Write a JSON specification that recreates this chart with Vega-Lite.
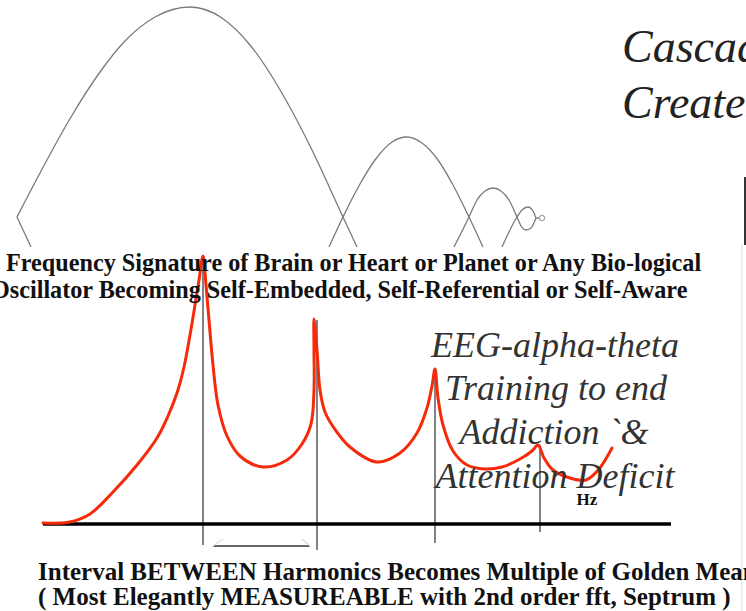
{
  "$schema": "https://vega.github.io/schema/vega-lite/v6.json",
  "width": 746,
  "height": 611,
  "autosize": {"type": "none"},
  "padding": 0,
  "background": "white",
  "config": {"view": {"stroke": null}, "text": {"baseline": "alphabetic"}},
  "encoding": {
    "x": {"field": "x", "type": "quantitative", "scale": {"domain": [0, 746], "nice": false, "zero": false}, "axis": null},
    "y": {"field": "y", "type": "quantitative", "scale": {"domain": [0, 611], "nice": false, "zero": false, "reverse": true}, "axis": null}
  },
  "layer": [
    {
      "data": {"values": [
        {"seg": "a1", "x": 17, "y": 217}, {"seg": "a1", "x": 40, "y": 173}, {"seg": "a1", "x": 71, "y": 117}, {"seg": "a1", "x": 100, "y": 72}, {"seg": "a1", "x": 124, "y": 42}, {"seg": "a1", "x": 155, "y": 17}, {"seg": "a1", "x": 190, "y": 7}, {"seg": "a1", "x": 222, "y": 18}, {"seg": "a1", "x": 250, "y": 45}, {"seg": "a1", "x": 287, "y": 102}, {"seg": "a1", "x": 311, "y": 148}, {"seg": "a1", "x": 343, "y": 217}, {"seg": "a1", "x": 357, "y": 247},
        {"seg": "a2", "x": 329, "y": 247}, {"seg": "a2", "x": 343, "y": 217}, {"seg": "a2", "x": 360, "y": 184}, {"seg": "a2", "x": 375, "y": 160}, {"seg": "a2", "x": 392, "y": 142}, {"seg": "a2", "x": 407, "y": 137}, {"seg": "a2", "x": 422, "y": 143}, {"seg": "a2", "x": 438, "y": 160}, {"seg": "a2", "x": 453, "y": 185}, {"seg": "a2", "x": 469, "y": 217}, {"seg": "a2", "x": 483, "y": 247},
        {"seg": "a3", "x": 454, "y": 247}, {"seg": "a3", "x": 469, "y": 217}, {"seg": "a3", "x": 477, "y": 200}, {"seg": "a3", "x": 485, "y": 191}, {"seg": "a3", "x": 493, "y": 188}, {"seg": "a3", "x": 501, "y": 191}, {"seg": "a3", "x": 509, "y": 200}, {"seg": "a3", "x": 517, "y": 217}, {"seg": "a3", "x": 521, "y": 226}, {"seg": "a3", "x": 526, "y": 230}, {"seg": "a3", "x": 531, "y": 228}, {"seg": "a3", "x": 536, "y": 218},
        {"seg": "a4", "x": 502, "y": 247}, {"seg": "a4", "x": 517, "y": 217}, {"seg": "a4", "x": 522, "y": 210}, {"seg": "a4", "x": 528, "y": 207}, {"seg": "a4", "x": 533, "y": 211}, {"seg": "a4", "x": 536, "y": 218}
      ]},
      "mark": {"type": "line", "interpolate": "monotone", "color": "#7a7a7a", "strokeWidth": 1.3},
      "encoding": {"detail": {"field": "seg"}}
    },
    {
      "data": {"values": [
        {"x": 17, "y": 217, "x2": 31, "y2": 247},
        {"x": 536, "y": 218, "x2": 539, "y2": 218}
      ]},
      "mark": {"type": "rule", "color": "#7a7a7a", "strokeWidth": 1.3},
      "encoding": {"x2": {"field": "x2"}, "y2": {"field": "y2"}}
    },
    {
      "data": {"values": [{"x": 542, "y": 218}]},
      "mark": {"type": "point", "shape": "circle", "filled": false, "size": 28, "color": "#7a7a7a", "strokeWidth": 1.2},
      "encoding": {}
    },
    {
      "data": {"values": [
        {"x": 745, "y": 177, "y2": 245, "c": "dark"},
        {"x": 742, "y": 245, "y2": 611, "c": "light"}
      ]},
      "mark": {"type": "rule"},
      "encoding": {
        "y2": {"field": "y2"},
        "color": {"field": "c", "type": "nominal", "scale": {"domain": ["dark", "light"], "range": ["#333333", "#dddddd"]}, "legend": null},
        "strokeWidth": {"field": "c", "type": "nominal", "scale": {"domain": ["dark", "light"], "range": [2, 1]}, "legend": null}
      }
    },
    {
      "data": {"values": [
        {"x": 203, "y": 257, "y2": 545},
        {"x": 317, "y": 320, "y2": 550},
        {"x": 435, "y": 370, "y2": 543},
        {"x": 540, "y": 445, "y2": 532}
      ]},
      "mark": {"type": "rule", "color": "#5a5a5a", "strokeWidth": 1.5},
      "encoding": {"y2": {"field": "y2"}}
    },
    {
      "data": {"values": [{"x": 43, "x2": 671, "y": 524}]},
      "mark": {"type": "rule", "color": "#000000", "strokeWidth": 3.5},
      "encoding": {"x2": {"field": "x2"}}
    },
    {
      "data": {"values": [
        {"x": 213, "y": 546, "x2": 310, "y2": 546, "p": "bar"},
        {"x": 213, "y": 546, "x2": 223, "y2": 539, "p": "tip"},
        {"x": 310, "y": 546, "x2": 302, "y2": 539, "p": "tip"}
      ]},
      "mark": {"type": "rule", "strokeWidth": 1.5},
      "encoding": {
        "x2": {"field": "x2"}, "y2": {"field": "y2"},
        "color": {"field": "p", "type": "nominal", "scale": {"domain": ["bar", "tip"], "range": ["#555555", "#9a4040"]}, "legend": null}
      }
    },
    {
      "data": {"values": [
        {"i": 1, "x": 43, "y": 523}, {"i": 2, "x": 70, "y": 522}, {"i": 3, "x": 90, "y": 514}, {"i": 4, "x": 113, "y": 492}, {"i": 5, "x": 137, "y": 465}, {"i": 6, "x": 157, "y": 438}, {"i": 7, "x": 168, "y": 416}, {"i": 8, "x": 177, "y": 393}, {"i": 9, "x": 184, "y": 367}, {"i": 10, "x": 190, "y": 335}, {"i": 11, "x": 195, "y": 305}, {"i": 12, "x": 199, "y": 280}, {"i": 13, "x": 203, "y": 256},
        {"i": 14, "x": 206, "y": 285}, {"i": 15, "x": 209, "y": 320}, {"i": 16, "x": 213, "y": 365}, {"i": 17, "x": 218, "y": 405}, {"i": 18, "x": 227, "y": 436}, {"i": 19, "x": 240, "y": 456}, {"i": 20, "x": 263, "y": 467}, {"i": 21, "x": 287, "y": 460}, {"i": 22, "x": 302, "y": 444}, {"i": 23, "x": 311, "y": 424}, {"i": 24, "x": 314, "y": 390}, {"i": 25, "x": 314, "y": 350}, {"i": 26, "x": 314, "y": 319},
        {"i": 27, "x": 317, "y": 350}, {"i": 28, "x": 320, "y": 390}, {"i": 29, "x": 325, "y": 412}, {"i": 30, "x": 334, "y": 428}, {"i": 31, "x": 350, "y": 447}, {"i": 32, "x": 377, "y": 462}, {"i": 33, "x": 400, "y": 453}, {"i": 34, "x": 417, "y": 433}, {"i": 35, "x": 427, "y": 408}, {"i": 36, "x": 432, "y": 386}, {"i": 37, "x": 435, "y": 369},
        {"i": 38, "x": 438, "y": 398}, {"i": 39, "x": 443, "y": 425}, {"i": 40, "x": 453, "y": 451}, {"i": 41, "x": 467, "y": 465}, {"i": 42, "x": 485, "y": 469}, {"i": 43, "x": 502, "y": 467}, {"i": 44, "x": 520, "y": 459}, {"i": 45, "x": 532, "y": 451}, {"i": 46, "x": 538, "y": 445},
        {"i": 47, "x": 544, "y": 458}, {"i": 48, "x": 553, "y": 470}, {"i": 49, "x": 570, "y": 478}, {"i": 50, "x": 586, "y": 480}, {"i": 51, "x": 599, "y": 469}, {"i": 52, "x": 612, "y": 448}
      ]},
      "mark": {"type": "line", "interpolate": "catmull-rom", "color": "#f52a0a", "strokeWidth": 3, "strokeCap": "round", "strokeJoin": "round"},
      "encoding": {"order": {"field": "i", "type": "quantitative"}}
    },
    {
      "data": {"values": [
        {"x": 6, "y": 271, "t": "Frequency Signature of Brain or Heart or Planet or Any Bio-logical"},
        {"x": -9, "y": 298, "t": "Oscillator Becoming Self-Embedded, Self-Referential or Self-Aware"}
      ]},
      "mark": {"type": "text", "align": "left", "baseline": "alphabetic", "font": "Liberation Serif", "fontWeight": "bold", "fontSize": 24.2, "color": "#111111"},
      "encoding": {"text": {"field": "t"}}
    },
    {
      "data": {"values": [
        {"x": 38, "y": 580, "t": "Interval BETWEEN Harmonics Becomes Multiple of Golden Mean"},
        {"x": 38, "y": 605, "t": "( Most Elegantly MEASUREABLE with 2nd order fft, Septrum )"}
      ]},
      "mark": {"type": "text", "align": "left", "baseline": "alphabetic", "font": "Liberation Serif", "fontWeight": "bold", "fontSize": 25, "color": "#111111"},
      "encoding": {"text": {"field": "t"}}
    },
    {
      "data": {"values": [{"x": 587, "y": 505, "t": "Hz"}]},
      "mark": {"type": "text", "align": "center", "baseline": "alphabetic", "font": "Liberation Serif", "fontWeight": "bold", "fontSize": 17, "color": "#111111"},
      "encoding": {"text": {"field": "t"}}
    },
    {
      "data": {"values": [
        {"x": 555, "y": 357, "t": "EEG-alpha-theta"},
        {"x": 556, "y": 400, "t": "Training to end"},
        {"x": 554, "y": 444, "t": "Addiction `&"},
        {"x": 555, "y": 488, "t": "Attention Deficit"}
      ]},
      "mark": {"type": "text", "align": "center", "baseline": "alphabetic", "font": "Liberation Serif", "fontStyle": "italic", "fontSize": 36, "color": "#333333"},
      "encoding": {"text": {"field": "t"}}
    },
    {
      "data": {"values": [
        {"x": 622, "y": 62, "t": "Cascading"},
        {"x": 622, "y": 118, "t": "Creates"}
      ]},
      "mark": {"type": "text", "align": "left", "baseline": "alphabetic", "font": "Liberation Serif", "fontStyle": "italic", "fontSize": 46, "color": "#222222"},
      "encoding": {"text": {"field": "t"}}
    }
  ]
}
